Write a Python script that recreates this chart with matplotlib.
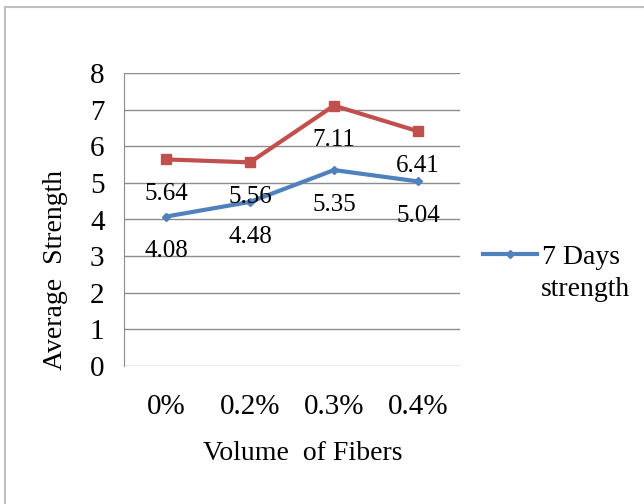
import matplotlib
matplotlib.use("Agg")
import matplotlib.pyplot as plt
from matplotlib.patches import Rectangle

# data
categories = ["0%", "0.2%", "0.3%", "0.4%"]
days7 = [4.08, 4.48, 5.35, 5.04]
days28 = [5.64, 5.56, 7.11, 6.41]

BLUE = "#4F81BD"
RED = "#C0504D"

plt.rcParams["font.family"] = ["Liberation Serif", "DejaVu Serif"]

fig = plt.figure(figsize=(6.44, 5.04), dpi=100)
ax = fig.add_axes([124/644, 1 - 366/504, (460 - 124)/644, (366 - 73)/504])

x = range(len(categories))
ax.plot(x, days28, color=RED, lw=3, marker="s", ms=7, zorder=3)
ax.plot(x, days7, color=BLUE, lw=3, marker="D", ms=4, zorder=3,
        label="7 Days")

# data labels sit under each point
for xi, v in zip(x, days28):
    ax.annotate(f"{v:.2f}", (xi, v), xytext=(0, -25), textcoords="offset points",
                ha="center", va="center", fontsize=18)
for xi, v in zip(x, days7):
    ax.annotate(f"{v:.2f}", (xi, v), xytext=(0, -25), textcoords="offset points",
                ha="center", va="center", fontsize=18)

ax.set_xlim(-0.5, 3.5)
ax.set_ylim(0, 8)
ax.set_yticks(range(0, 9))
ax.set_xticks(list(x))
ax.set_xticklabels(categories)
ax.tick_params(axis="both", length=0, labelsize=21)
ax.tick_params(axis="y", pad=14)
ax.tick_params(axis="x", pad=20)
ax.yaxis.grid(True, color="#8c8c8c", lw=1)
ax.set_axisbelow(True)
for s in ["top", "right", "bottom"]:
    ax.spines[s].set_visible(False)
ax.spines["left"].set_color("#8c8c8c")

fig.text(55/644, 1 - 270/504, "Average  Strength", rotation=90,
         ha="center", va="center", fontsize=20)
fig.text(303/644, 1 - 453/504, "Volume  of Fibers", ha="center", va="center",
         fontsize=20)

# legend: handle sits on the first line, second line wraps below
leg = ax.legend(loc="center left", bbox_to_anchor=(483/644, 1 - 257/504),
                bbox_transform=fig.transFigure, frameon=False, borderpad=0,
                borderaxespad=0, fontsize=20, handlelength=1.95,
                handletextpad=0.18)
fig.text(541/644, 1 - 290/504, "strength", ha="left", va="center", fontsize=20)

# outer chart border
fig.patches.append(Rectangle((5/644, -0.1), 2, 1.1 - 7/504,
                             transform=fig.transFigure, fill=False,
                             edgecolor="#bfbfbf", lw=1.5))

fig.savefig("out.png", dpi=100)
